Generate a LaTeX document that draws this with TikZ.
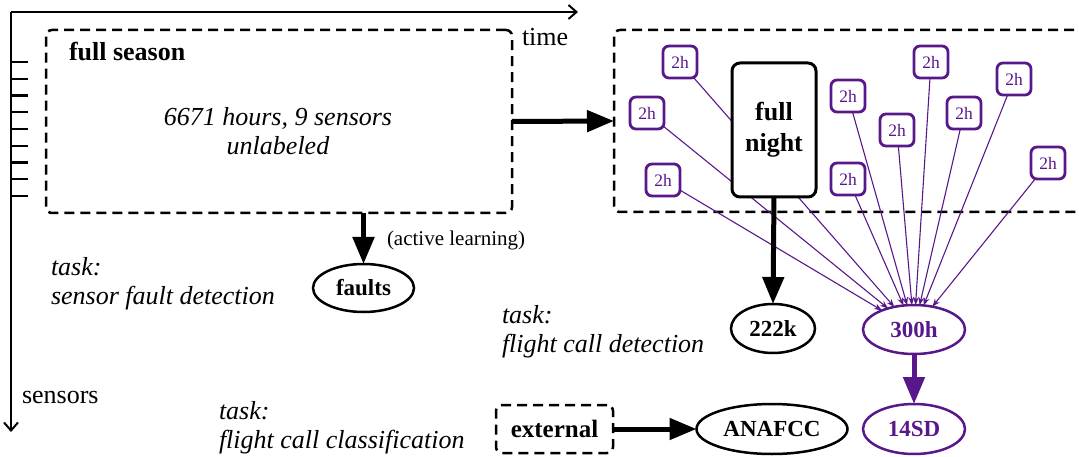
\documentclass[tikz,border=0pt]{standalone}
\usepackage{fontspec}
\setmainfont{Liberation Serif}
\usetikzlibrary{shapes.geometric,arrows.meta}
\definecolor{vio}{RGB}{88,24,138}
\begin{document}
\begin{tikzpicture}[x=1pt,y=1pt,
  every node/.style={inner sep=0pt, outer sep=0pt},
  lbl/.style={font=\fontsize{26}{29}\selectfont, align=left, anchor=west},
  ilbl/.style={lbl, font=\fontsize{26}{29}\selectfont\itshape},
  dbox/.style={draw, line width=2.5pt, dash pattern=on 10pt off 6pt, rounded corners=6pt},
  hbox/.style={draw=vio, text=vio, line width=2.8pt, rounded corners=6pt,
    minimum width=34pt, minimum height=32pt, font=\fontsize{17.5}{20}\selectfont},
  ell/.style={ellipse, draw, line width=2.5pt, font=\fontsize{23}{26}\selectfont\bfseries},
  vell/.style={ell, draw=vio, text=vio},
  big/.style={line width=5pt, -{Triangle[length=27pt,width=21pt]}},
  thin/.style={draw=vio, line width=1.1pt, -{Stealth[length=8pt,width=6pt]}},
  axis/.style={line width=2pt, -{Straight Barb[length=8pt,width=14pt]}},
  tick/.style={line width=2.2pt}
]
\useasboundingbox (0,0) rectangle (1079,-457);

% axes
\coordinate (o) at (11,-12);
\coordinate (tend) at (578,-12);
\coordinate (send) at (11,-432);
\draw[axis] (o) -- (tend);
\draw[axis] (o) -- (send);
\foreach \i in {0,...,8} {
  \draw[tick] (11,{-62-16.75*\i}) -- (28,{-62-16.75*\i});
}
\node[lbl] (time) at (522,-37) {time};
\node[lbl] (sens) at (22,-397) {sensors};

% full season
\node[dbox, minimum width=466pt, minimum height=183pt] (season) at (279,-121.5) {};
\node[lbl, font=\fontsize{26}{29}\selectfont\bfseries] (fs) at (69,-52) {full season};
\node[ilbl, anchor=center, align=center] (desc) at (278,-131) {6671 hours, 9 sensors\\unlabeled};

% night region
\node[dbox, minimum width=482pt, minimum height=182pt] (region) at (855,-121) {};
\draw[big] (season.east) -- (region.west);

% faults
\node[ell, minimum width=101pt, minimum height=48pt] (faults) at (363.5,-288) {faults};
\draw[big] (faults.north |- season.south) -- (faults.north);
\node[lbl, font=\fontsize{21}{24}\selectfont] (al) at (387,-240) {(active learning)};

% task labels
\node[ilbl] (taskA) at (51,-284) {task:\\sensor fault detection};
\node[ilbl] (taskB) at (502,-332) {task:\\flight call detection};
\node[ilbl] (taskC) at (219,-428) {task:\\flight call classification};

% 2h boxes
\node[hbox] (h1) at (680,-62) {2h};
\node[hbox] (h2) at (647,-113) {2h};
\node[hbox] (h3) at (663,-180) {2h};
\node[hbox] (h4) at (848,-96) {2h};
\node[hbox] (h5) at (848,-179) {2h};
\node[hbox] (h6) at (897,-130) {2h};
\node[hbox] (h7) at (931,-62) {2h};
\node[hbox] (h8) at (964,-113) {2h};
\node[hbox] (h9) at (1014,-79) {2h};
\node[hbox] (h10) at (1048,-163) {2h};

% result ellipses
\node[vell, minimum width=102pt, minimum height=49pt] (h300) at (914,-329.5) {300h};
\node[vell, minimum width=102pt, minimum height=50pt] (sd) at (914,-429) {14SD};
\node[ell, minimum width=84pt, minimum height=49pt] (k222) at (773,-328.5) {222k};
\node[ell, minimum width=151pt, minimum height=50pt] (anafcc) at (772,-429) {ANAFCC};

\foreach \n in {h1,h2,h3,h4,h5,h6,h7,h8,h9,h10} {
  \draw[thin] (\n) -- (h300);
}

% full night on top
\node[draw, fill=white, line width=3pt, rounded corners=8pt, minimum width=84pt, minimum height=134pt,
  align=center, font=\fontsize{26}{31}\selectfont\bfseries] (night) at (774,-130) {full\\night};
\draw[big] (night.south) -- (k222.north);
\draw[big, draw=vio, fill=vio] (h300.south) -- (sd.north);

% external
\node[dbox, minimum width=117pt, minimum height=48pt, font=\fontsize{25}{28}\selectfont\bfseries] (ext) at (554.5,-429) {external};
\draw[big] (ext.east) -- (anafcc.west);
\end{tikzpicture}
\end{document}
